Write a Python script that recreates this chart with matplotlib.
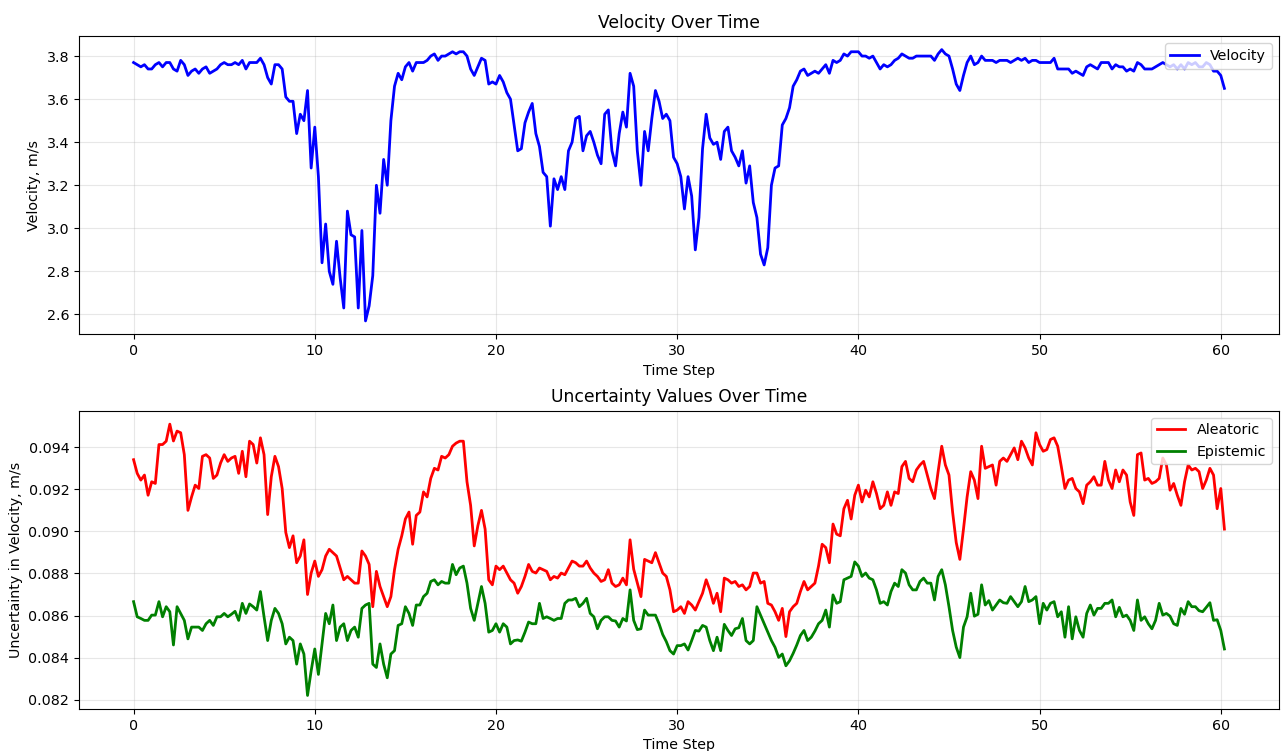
import numpy as np
import matplotlib
matplotlib.use("Agg")
import matplotlib.pyplot as plt

plt.rcParams['font.size'] = 10.25

# sampled every 0.2 time steps
velocity = [
    3.77, 3.76, 3.75, 3.76, 3.74, 3.74, 3.76, 3.77, 3.75, 3.77,
    3.77, 3.74, 3.73, 3.78, 3.76, 3.71, 3.73, 3.74, 3.72, 3.74,
    3.75, 3.72, 3.73, 3.74, 3.76, 3.77, 3.76, 3.76, 3.77, 3.76,
    3.78, 3.74, 3.77, 3.77, 3.77, 3.79, 3.76, 3.70, 3.67, 3.76,
    3.76, 3.74, 3.61, 3.59, 3.59, 3.44, 3.53, 3.50, 3.64, 3.28,
    3.47, 3.24, 2.84, 3.02, 2.80, 2.74, 2.94, 2.77, 2.63, 3.08,
    2.97, 2.96, 2.63, 2.99, 2.57, 2.64, 2.78, 3.20, 3.07, 3.32,
    3.20, 3.50, 3.66, 3.72, 3.69,
    3.75, 3.77, 3.73, 3.77, 3.77, 3.77, 3.78, 3.80, 3.81, 3.78,
    3.80, 3.80, 3.81, 3.82, 3.81, 3.82, 3.82, 3.80, 3.74, 3.71,
    3.75, 3.79, 3.78, 3.67, 3.68, 3.67, 3.71, 3.68, 3.63, 3.60,
    3.48, 3.36, 3.37, 3.49, 3.54, 3.58, 3.44, 3.38, 3.26, 3.24,
    3.01, 3.23, 3.18, 3.24, 3.18, 3.36, 3.40, 3.51, 3.52, 3.36,
    3.43, 3.45, 3.40, 3.34, 3.30, 3.53, 3.55, 3.36, 3.29, 3.44,
    3.54, 3.47, 3.72, 3.66, 3.36, 3.20, 3.45, 3.36, 3.51, 3.64,
    3.59, 3.51, 3.53, 3.50, 3.33, 3.30, 3.24, 3.09, 3.24, 3.15,
    2.90, 3.05, 3.37, 3.53, 3.42, 3.39, 3.40, 3.32, 3.45, 3.47,
    3.36, 3.33, 3.29, 3.36, 3.21, 3.29, 3.12, 3.05, 2.88, 2.83,
    2.91, 3.20, 3.28, 3.29, 3.48, 3.51, 3.56, 3.66, 3.69, 3.73,
    3.74, 3.71, 3.72, 3.73, 3.72, 3.74, 3.76, 3.72, 3.78, 3.77,
    3.78, 3.81, 3.80, 3.82, 3.82, 3.82, 3.80, 3.80, 3.79, 3.80,
    3.77, 3.74, 3.76, 3.75, 3.76, 3.78, 3.79, 3.81, 3.80, 3.79,
    3.79, 3.80, 3.80, 3.80, 3.80, 3.80, 3.78, 3.81, 3.83, 3.81,
    3.80, 3.74, 3.67, 3.64, 3.71, 3.77, 3.80, 3.76, 3.77, 3.80,
    3.78, 3.78, 3.78, 3.77, 3.78, 3.78, 3.78, 3.77, 3.78, 3.79,
    3.78, 3.79, 3.77, 3.78, 3.78, 3.77, 3.77, 3.77, 3.77, 3.79,
    3.74, 3.74, 3.74, 3.74, 3.72, 3.73, 3.72, 3.71, 3.75, 3.76,
    3.75, 3.74, 3.77, 3.77, 3.77, 3.74, 3.76, 3.75, 3.75, 3.73,
    3.74, 3.73, 3.77, 3.76, 3.74, 3.74, 3.74, 3.75, 3.76, 3.77,
    3.76, 3.75, 3.76, 3.74, 3.76, 3.74, 3.77, 3.76, 3.77, 3.75,
    3.75, 3.77, 3.76, 3.73, 3.73, 3.71, 3.65,
]

aleatoric = [
    0.09341, 0.09276, 0.09244, 0.09268, 0.09172, 0.09236, 0.09228, 0.09413, 0.09413, 0.09429,
    0.09510, 0.09430, 0.09477, 0.09469, 0.09365, 0.09100, 0.09164, 0.09220, 0.09204, 0.09357,
    0.09365, 0.09349, 0.09252, 0.09268, 0.09325, 0.09365, 0.09333, 0.09349, 0.09357, 0.09276,
    0.09381, 0.09260, 0.09429, 0.09413, 0.09325, 0.09445, 0.09365, 0.09080, 0.09260, 0.09357,
    0.09308, 0.09204, 0.08995, 0.08923, 0.08979, 0.08851, 0.08883, 0.08960, 0.08700, 0.08802,
    0.08859, 0.08786, 0.08818, 0.08883, 0.08915, 0.08899, 0.08883, 0.08826, 0.08770, 0.08786,
    0.08770, 0.08754, 0.08754, 0.08907, 0.08883, 0.08843, 0.08642, 0.08810, 0.08738, 0.08690,
    0.08642, 0.08690, 0.08818, 0.08915, 0.08979,
    0.09059, 0.09092, 0.08939, 0.09076, 0.09092, 0.09188, 0.09164, 0.09252, 0.09300, 0.09292,
    0.09357, 0.09349, 0.09365, 0.09405, 0.09420, 0.09429, 0.09429, 0.09236, 0.09124, 0.08931,
    0.09027, 0.09100, 0.09011, 0.08770, 0.08746, 0.08835, 0.08818, 0.08835, 0.08802, 0.08770,
    0.08754, 0.08706, 0.08738, 0.08786, 0.08843, 0.08810, 0.08802, 0.08826, 0.08818, 0.08810,
    0.08770, 0.08786, 0.08778, 0.08802, 0.08794, 0.08826, 0.08859, 0.08851, 0.08835, 0.08835,
    0.08859, 0.08826, 0.08802, 0.08786, 0.08762, 0.08770, 0.08818, 0.08754, 0.08738, 0.08746,
    0.08778, 0.08746, 0.08960, 0.08820, 0.08754, 0.08690, 0.08867, 0.08859, 0.08851, 0.08899,
    0.08851, 0.08802, 0.08786, 0.08722, 0.08618, 0.08626, 0.08642, 0.08610, 0.08666, 0.08650,
    0.08626, 0.08666, 0.08706, 0.08770, 0.08722, 0.08658, 0.08706, 0.08618, 0.08778, 0.08770,
    0.08754, 0.08762, 0.08738, 0.08746, 0.08722, 0.08738, 0.08802, 0.08802, 0.08754, 0.08762,
    0.08658, 0.08650, 0.08618, 0.08577, 0.08634, 0.08500, 0.08618, 0.08642, 0.08658, 0.08714,
    0.08762, 0.08722, 0.08738, 0.08754, 0.08835, 0.08939, 0.08923, 0.08851, 0.09035, 0.08987,
    0.08979, 0.09108, 0.09148, 0.09059, 0.09172, 0.09220, 0.09140, 0.09196, 0.09164, 0.09236,
    0.09180, 0.09108, 0.09124, 0.09188, 0.09124, 0.09188, 0.09180, 0.09308, 0.09333, 0.09252,
    0.09236, 0.09292, 0.09316, 0.09333, 0.09268, 0.09204, 0.09156, 0.09284, 0.09405, 0.09316,
    0.09268, 0.09092, 0.08947, 0.08867, 0.09011, 0.09164, 0.09284, 0.09244, 0.09156, 0.09405,
    0.09300, 0.09308, 0.09316, 0.09220, 0.09333, 0.09349, 0.09333, 0.09365, 0.09397, 0.09341,
    0.09429, 0.09397, 0.09349, 0.09316, 0.09469, 0.09413, 0.09381, 0.09389, 0.09437, 0.09445,
    0.09405, 0.09308, 0.09204, 0.09244, 0.09252, 0.09204, 0.09188, 0.09132, 0.09220, 0.09236,
    0.09260, 0.09220, 0.09220, 0.09333, 0.09244, 0.09204, 0.09292, 0.09236, 0.09292, 0.09268,
    0.09140, 0.09076, 0.09365, 0.09373, 0.09244, 0.09252, 0.09228, 0.09236, 0.09252, 0.09349,
    0.09316, 0.09196, 0.09228, 0.09172, 0.09124, 0.09236, 0.09316, 0.09292, 0.09300, 0.09284,
    0.09204, 0.09244, 0.09300, 0.09268, 0.09108, 0.09204, 0.09011,
]

epistemic = [
    0.08666, 0.08594, 0.08586, 0.08577, 0.08577, 0.08602, 0.08602, 0.08666, 0.08594, 0.08642,
    0.08618, 0.08460, 0.08642, 0.08610, 0.08577, 0.08489, 0.08545, 0.08545, 0.08545, 0.08529,
    0.08561, 0.08577, 0.08553, 0.08594, 0.08594, 0.08610, 0.08594, 0.08606, 0.08620, 0.08577,
    0.08658, 0.08610, 0.08655, 0.08642, 0.08626, 0.08714, 0.08594, 0.08481, 0.08577, 0.08634,
    0.08610, 0.08561, 0.08465, 0.08497, 0.08481, 0.08369, 0.08465, 0.08417, 0.08220, 0.08337,
    0.08441, 0.08320, 0.08465, 0.08610, 0.08561, 0.08650, 0.08481, 0.08545, 0.08561, 0.08481,
    0.08529, 0.08545, 0.08497, 0.08634, 0.08650, 0.08658, 0.08369, 0.08353, 0.08465, 0.08369,
    0.08304, 0.08417, 0.08433, 0.08553, 0.08561,
    0.08642, 0.08610, 0.08553, 0.08650, 0.08650, 0.08690, 0.08706, 0.08762, 0.08770, 0.08746,
    0.08762, 0.08754, 0.08754, 0.08843, 0.08794, 0.08826, 0.08835, 0.08754, 0.08634, 0.08577,
    0.08658, 0.08738, 0.08658, 0.08521, 0.08529, 0.08561, 0.08521, 0.08561, 0.08545, 0.08465,
    0.08481, 0.08484, 0.08478, 0.08521, 0.08569, 0.08561, 0.08561, 0.08658, 0.08586, 0.08594,
    0.08586, 0.08577, 0.08586, 0.08586, 0.08658, 0.08674, 0.08674, 0.08682, 0.08642, 0.08658,
    0.08682, 0.08610, 0.08594, 0.08537, 0.08577, 0.08594, 0.08594, 0.08577, 0.08574, 0.08545,
    0.08586, 0.08574, 0.08722, 0.08577, 0.08533, 0.08537, 0.08626, 0.08602, 0.08602, 0.08602,
    0.08561, 0.08510, 0.08476, 0.08433, 0.08417, 0.08457, 0.08457, 0.08465, 0.08436, 0.08481,
    0.08529, 0.08526, 0.08553, 0.08545, 0.08481, 0.08433, 0.08497, 0.08433, 0.08558, 0.08529,
    0.08505, 0.08537, 0.08542, 0.08586, 0.08481, 0.08465, 0.08481, 0.08642, 0.08602, 0.08561,
    0.08521, 0.08481, 0.08449, 0.08401, 0.08417, 0.08361, 0.08385, 0.08420, 0.08460, 0.08505,
    0.08529, 0.08481, 0.08497, 0.08526, 0.08561, 0.08577, 0.08626, 0.08545, 0.08698, 0.08658,
    0.08666, 0.08770, 0.08778, 0.08786, 0.08855, 0.08835, 0.08786, 0.08802, 0.08778, 0.08770,
    0.08722, 0.08658, 0.08666, 0.08650, 0.08714, 0.08754, 0.08738, 0.08818, 0.08802, 0.08746,
    0.08722, 0.08722, 0.08762, 0.08778, 0.08754, 0.08754, 0.08674, 0.08786, 0.08818, 0.08746,
    0.08642, 0.08529, 0.08450, 0.08400, 0.08545, 0.08594, 0.08706, 0.08597, 0.08606, 0.08746,
    0.08650, 0.08671, 0.08626, 0.08650, 0.08674, 0.08661, 0.08658, 0.08690, 0.08666, 0.08642,
    0.08666, 0.08738, 0.08666, 0.08674, 0.08690, 0.08561, 0.08658, 0.08626, 0.08658, 0.08666,
    0.08594, 0.08618, 0.08497, 0.08642, 0.08489, 0.08594, 0.08529, 0.08497, 0.08610, 0.08650,
    0.08602, 0.08634, 0.08634, 0.08658, 0.08658, 0.08674, 0.08594, 0.08639, 0.08594, 0.08602,
    0.08577, 0.08529, 0.08674, 0.08577, 0.08594, 0.08561, 0.08537, 0.08577, 0.08658, 0.08602,
    0.08610, 0.08597, 0.08561, 0.08553, 0.08634, 0.08606, 0.08666, 0.08642, 0.08642, 0.08623,
    0.08618, 0.08639, 0.08661, 0.08577, 0.08580, 0.08529, 0.08441,
]

time = np.arange(len(velocity)) * 0.2

fig = plt.figure(figsize=(12.81, 7.51), dpi=100)
plt.subplots_adjust(left=0.0617, right=0.9984, top=0.952, bottom=0.0559, hspace=0.255)

plt.subplot(2, 1, 1)
plt.plot(time, velocity, color='b', linewidth=2, label='Velocity')
plt.title('Velocity Over Time')
plt.xlabel('Time Step')
plt.ylabel('Velocity, m/s')
plt.legend(loc='upper right')
plt.grid(True, alpha=0.3)

plt.subplot(2, 1, 2)
plt.plot(time, aleatoric, color='r', linewidth=2, label='Aleatoric')
plt.plot(time, epistemic, color='g', linewidth=2, label='Epistemic')
plt.title('Uncertainty Values Over Time')
plt.xlabel('Time Step')
plt.ylabel('Uncertainty in Velocity, m/s')
plt.legend(loc='upper right')
plt.grid(True, alpha=0.3)

plt.savefig('out.png')
